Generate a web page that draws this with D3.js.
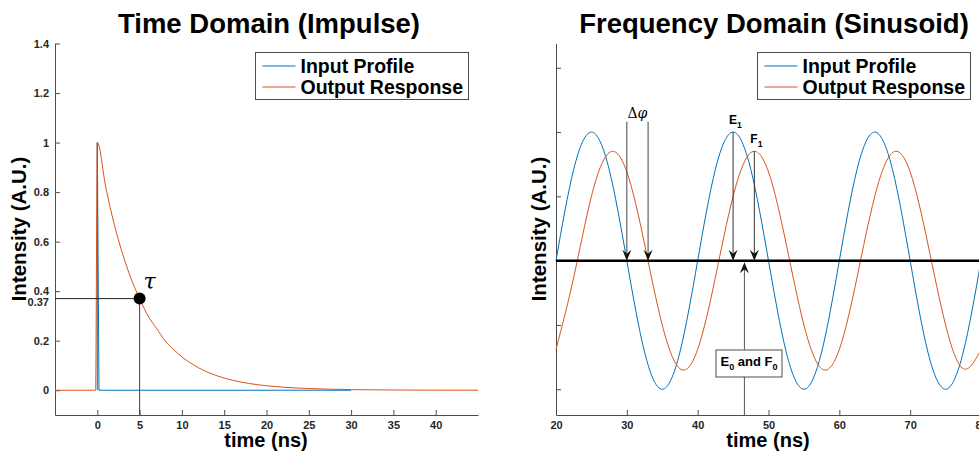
<!DOCTYPE html>
<html>
<head>
<meta charset="utf-8">
<script src="https://d3js.org/d3.v7.min.js"></script>
<style>
body { margin: 0; background: #fff; }
text { font-family: "Liberation Sans", Arial, sans-serif; }
</style>
</head>
<body>
<svg width="979" height="453" id="chart"></svg>
<script>

// ---- time domain (impulse) ----
var impulseTime  = [0, 0, 0.2, 30];
var impulseValue = [0, 1, 0, 0];
var decayTime  = [-5, -0.2, 0, 1, 2, 3, 4, 5, 6, 7, 8, 9, 10, 12, 14, 16, 18, 20, 22, 25, 30, 35, 40, 45];
var decayValue = [0, 0, 1, 0.82, 0.67, 0.55, 0.45, 0.37, 0.30, 0.25, 0.20, 0.165, 0.135, 0.09, 0.06, 0.04, 0.027, 0.018, 0.012, 0.007, 0.0025, 0.001, 0.0003, 0.0001];
var timeTicksX = [0, 5, 10, 15, 20, 25, 30, 35, 40];
var timeTicksY = [0, 0.2, 0.4, 0.6, 0.8, 1, 1.2, 1.4];
var tauPoint = {t: 5, v: 0.37, label: "0.37"};

// ---- frequency domain (sinusoid) ----
var sineTime = [20, 22.5, 25, 27.5, 30, 32.5, 35, 37.5, 40, 42.5, 45, 47.5, 50, 52.5, 55, 57.5, 60, 62.5, 65, 67.5, 70, 72.5, 75, 77.5, 80];
var inputWave  = [0, 0.71, 1, 0.71, 0, -0.71, -1, -0.71, 0, 0.71, 1, 0.71, 0, -0.71, -1, -0.71, 0, 0.71, 1, 0.71, 0, -0.71, -1, -0.71, 0];
var outputWave = [-0.69, -0.13, 0.50, 0.84, 0.69, 0.13, -0.50, -0.84, -0.69, -0.13, 0.50, 0.84, 0.69, 0.13, -0.50, -0.84, -0.69, -0.13, 0.50, 0.84, 0.69, 0.13, -0.50, -0.84, -0.69];
var freqTicksX = [20, 30, 40, 50, 60, 70, 80];
var freqTicksY = [-1, -0.5, 0, 0.5, 1, 1.5];
var phaseMarks = [30, 33];        // delta phi arrows
var phaseTop = 1.08;
var peakMarks = [{t: 45, v: 1, name: "E", sub: "1"}, {t: 48, v: 0.85, name: "F", sub: "1"}];
var zeroMark = 46.6;

var seriesNames = ["Input Profile", "Output Response"];
var colors = ["#0072BD", "#D95319"];
var axisColor = "#4d4d4d";

var svg = d3.select("#chart");

function zip(xs, ys) {
  return xs.map(function(d, i) { return [d, ys[i]]; });
}

function styleAxis(g) {
  g.select(".domain").attr("stroke", axisColor);
  g.selectAll(".tick line").attr("stroke", axisColor);
  g.selectAll(".tick text")
    .attr("fill", "#262626")
    .style("font-size", "11px")
    .style("font-weight", "bold");
}

function drawLegend(x, y) {
  var lg = svg.append("g").attr("transform", "translate(" + x + "," + y + ")");
  lg.append("rect").attr("width", 213).attr("height", 47)
    .attr("fill", "#fff").attr("stroke", axisColor);
  seriesNames.forEach(function(name, i) {
    var ry = 13.5 + i * 21;
    lg.append("line").attr("x1", 7).attr("x2", 40).attr("y1", ry).attr("y2", ry)
      .attr("stroke", colors[i]).attr("stroke-width", 1);
    lg.append("text").attr("x", 45).attr("y", ry + 7)
      .style("font-size", "19.5px").style("font-weight", "bold")
      .text(name);
  });
}

function arrowHead(x, y, dir) {
  // dir = 1 points down, -1 points up
  var p = [[x, y], [x - 4.5, y - 11 * dir], [x, y - 7 * dir], [x + 4.5, y - 11 * dir]];
  svg.append("path").attr("d", "M" + p.join("L") + "Z").attr("fill", "#111");
}

function subText(x, y, name, sub, size, anchor) {
  var t = svg.append("text").attr("x", x).attr("y", y)
    .attr("text-anchor", anchor || "start")
    .style("font-size", size + "px").style("font-weight", "bold");
  t.append("tspan").text(name);
  t.append("tspan").attr("dy", 4).style("font-size", (size * 0.72) + "px").text(sub);
  return t;
}

// =============== left panel ===============
var x1 = d3.scaleLinear().domain([-5, 45]).range([55, 478]);
var y1 = d3.scaleLinear().domain([-0.1, 1.4]).range([415, 43.5]);

svg.append("g").attr("transform", "translate(0,415)")
  .call(d3.axisBottom(x1).tickValues(timeTicksX).tickSizeInner(-5).tickSizeOuter(0).tickPadding(6))
  .call(styleAxis);
svg.append("g").attr("transform", "translate(55,0)")
  .call(d3.axisLeft(y1).tickValues(timeTicksY).tickFormat(d3.format("")).tickSizeInner(-5).tickSizeOuter(0).tickPadding(6))
  .call(styleAxis);

var line1 = d3.line().x(function(d) { return x1(d[0]); }).y(function(d) { return y1(d[1]); });

svg.append("path").datum(zip(impulseTime, impulseValue))
  .attr("fill", "none").attr("stroke", colors[0]).attr("stroke-width", 1)
  .attr("d", line1);
svg.append("path").datum(zip(decayTime, decayValue))
  .attr("fill", "none").attr("stroke", colors[1]).attr("stroke-width", 1)
  .attr("d", line1.curve(d3.curveMonotoneX));

// tau marker
svg.append("line").attr("x1", 55).attr("x2", x1(tauPoint.t))
  .attr("y1", y1(tauPoint.v)).attr("y2", y1(tauPoint.v)).attr("stroke", "#222");
svg.append("line").attr("x1", x1(tauPoint.t)).attr("x2", x1(tauPoint.t))
  .attr("y1", y1(tauPoint.v)).attr("y2", 415).attr("stroke", "#444");
svg.append("circle").attr("cx", x1(tauPoint.t)).attr("cy", y1(tauPoint.v)).attr("r", 6).attr("fill", "#000");
svg.append("text").attr("x", 49).attr("y", y1(tauPoint.v) + 7).attr("text-anchor", "end")
  .attr("fill", "#262626").style("font-size", "11px").style("font-weight", "bold")
  .text(tauPoint.label);
svg.append("text").attr("x", x1(tauPoint.t) + 4).attr("y", y1(tauPoint.v) - 10)
  .style("font-family", "'DejaVu Serif', serif").style("font-style", "italic").style("font-size", "22px")
  .text("\u03C4");

svg.append("text").attr("x", 269).attr("y", 33).attr("text-anchor", "middle")
  .style("font-size", "27.5px").style("font-weight", "bold").text("Time Domain (Impulse)");
svg.append("text").attr("x", 266).attr("y", 447).attr("text-anchor", "middle")
  .style("font-size", "20px").style("font-weight", "bold").text("time (ns)");
svg.append("text").attr("transform", "translate(26,229) rotate(-90)").attr("text-anchor", "middle")
  .style("font-size", "20.5px").style("font-weight", "bold").text("Intensity (A.U.)");

drawLegend(255.5, 52.5);

// =============== right panel ===============
var x2 = d3.scaleLinear().domain([20, 80]).range([556, 981]);
var y2 = d3.scaleLinear().domain([-1.2, 1.69]).range([415, 43.3]);

svg.append("g").attr("transform", "translate(0,415)")
  .call(d3.axisBottom(x2).tickValues(freqTicksX).tickSizeInner(-5).tickSizeOuter(0).tickPadding(6))
  .call(styleAxis);
svg.append("g").attr("transform", "translate(556,0)")
  .call(d3.axisLeft(y2).tickValues(freqTicksY).tickFormat("").tickSizeInner(-5).tickSizeOuter(0))
  .call(styleAxis);

var line2 = d3.line().x(function(d) { return x2(d[0]); }).y(function(d) { return y2(d[1]); })
  .curve(d3.curveNatural);

svg.append("path").datum(zip(sineTime, inputWave))
  .attr("fill", "none").attr("stroke", colors[0]).attr("stroke-width", 1).attr("d", line2);
svg.append("path").datum(zip(sineTime, outputWave))
  .attr("fill", "none").attr("stroke", colors[1]).attr("stroke-width", 1).attr("d", line2);

// zero line
svg.append("line").attr("x1", 556).attr("x2", 981).attr("y1", y2(0)).attr("y2", y2(0))
  .attr("stroke", "#000").attr("stroke-width", 2.5);

// delta phi arrows
phaseMarks.forEach(function(t) {
  svg.append("line").attr("x1", x2(t)).attr("x2", x2(t))
    .attr("y1", y2(phaseTop)).attr("y2", y2(0) - 6).attr("stroke", "#444");
  arrowHead(x2(t), y2(0), 1);
});
var dp = svg.append("text").attr("x", x2(d3.mean(phaseMarks))).attr("y", y2(phaseTop) - 4)
  .attr("text-anchor", "middle")
  .style("font-family", "'DejaVu Serif', serif").style("font-size", "14px");
dp.append("tspan").text("\u0394");
dp.append("tspan").style("font-style", "italic").text("\u03C6");

// peak arrows
peakMarks.forEach(function(m) {
  svg.append("line").attr("x1", x2(m.t)).attr("x2", x2(m.t))
    .attr("y1", y2(m.v)).attr("y2", y2(0) - 6).attr("stroke", "#333");
  arrowHead(x2(m.t), y2(0), 1);
  subText(x2(m.t) - 4, y2(m.v) - 8, m.name, m.sub, 12);
});

// zero crossing arrow + box
svg.append("line").attr("x1", x2(zeroMark)).attr("x2", x2(zeroMark))
  .attr("y1", 415).attr("y2", y2(0) + 6).attr("stroke", "#555");
arrowHead(x2(zeroMark), y2(0) + 1.5, -1);
svg.append("rect").attr("x", 716).attr("y", 350).attr("width", 66).attr("height", 27)
  .attr("fill", "#fff").attr("stroke", axisColor);
var eb = svg.append("text").attr("x", 749).attr("y", 366).attr("text-anchor", "middle")
  .style("font-size", "13px").style("font-weight", "bold");
eb.append("tspan").text("E");
eb.append("tspan").attr("dy", 4).style("font-size", "9px").text("0");
eb.append("tspan").attr("dy", -4).text(" and F");
eb.append("tspan").attr("dy", 4).style("font-size", "9px").text("0");

svg.append("text").attr("x", 774).attr("y", 33).attr("text-anchor", "middle")
  .style("font-size", "27.5px").style("font-weight", "bold").text("Frequency Domain (Sinusoid)");
svg.append("text").attr("x", 768).attr("y", 447).attr("text-anchor", "middle")
  .style("font-size", "20px").style("font-weight", "bold").text("time (ns)");
svg.append("text").attr("transform", "translate(546,229) rotate(-90)").attr("text-anchor", "middle")
  .style("font-size", "20.5px").style("font-weight", "bold").text("Intensity (A.U.)");

drawLegend(757.5, 52.5);

</script>
</body>
</html>
